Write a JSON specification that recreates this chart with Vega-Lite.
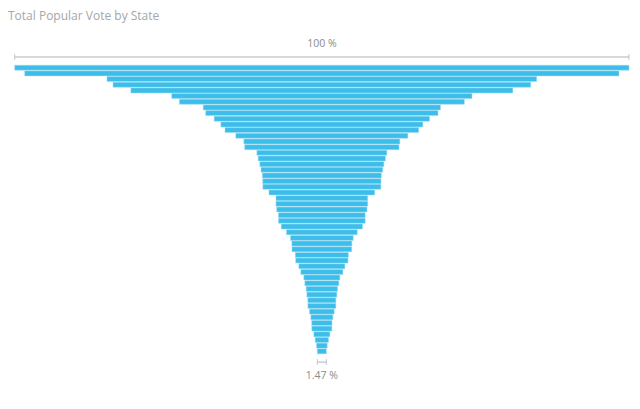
{
  "$schema": "https://vega.github.io/schema/vega-lite/v6.json",
  "autosize": {"type": "none"},
  "padding": {"left": 14.7, "top": 30, "right": 11, "bottom": 19},
  "width": 614.3,
  "height": 360,
  "background": "white",
  "title": {"text": "Total Popular Vote by State", "anchor": "start", "frame": "group", "orient": "top", "font": "Open Sans", "fontSize": 12, "fontWeight": "normal", "color": "#a6a6a6", "dx": -6.7, "offset": -2, "baseline": "alphabetic"},
  "config": {"view": {"stroke": null}},
  "data": {"values": [
    {"kind": "bar", "rank": 1, "state": "California", "value": 100},
    {"kind": "bar", "rank": 2, "state": "Texas", "value": 96.74},
    {"kind": "bar", "rank": 3, "state": "Florida", "value": 69.95},
    {"kind": "bar", "rank": 4, "state": "New York", "value": 68.0},
    {"kind": "bar", "rank": 5, "state": "Pennsylvania", "value": 62.18},
    {"kind": "bar", "rank": 6, "state": "Illinois", "value": 48.88},
    {"kind": "bar", "rank": 7, "state": "Ohio", "value": 46.39},
    {"kind": "bar", "rank": 8, "state": "Michigan", "value": 38.63},
    {"kind": "bar", "rank": 9, "state": "North Carolina", "value": 37.82},
    {"kind": "bar", "rank": 10, "state": "Georgia", "value": 35.05},
    {"kind": "bar", "rank": 11, "state": "Virginia", "value": 32.88},
    {"kind": "bar", "rank": 12, "state": "New Jersey", "value": 31.53},
    {"kind": "bar", "rank": 13, "state": "Washington", "value": 28.0},
    {"kind": "bar", "rank": 14, "state": "Massachusetts", "value": 25.39},
    {"kind": "bar", "rank": 15, "state": "Arizona", "value": 25.12},
    {"kind": "bar", "rank": 16, "state": "Wisconsin", "value": 21.16},
    {"kind": "bar", "rank": 17, "state": "Minnesota", "value": 20.72},
    {"kind": "bar", "rank": 18, "state": "Tennessee", "value": 20.19},
    {"kind": "bar", "rank": 19, "state": "Indiana", "value": 19.81},
    {"kind": "bar", "rank": 20, "state": "Missouri", "value": 19.37},
    {"kind": "bar", "rank": 21, "state": "Maryland", "value": 19.26},
    {"kind": "bar", "rank": 22, "state": "Colorado", "value": 19.21},
    {"kind": "bar", "rank": 23, "state": "Oregon", "value": 17.21},
    {"kind": "bar", "rank": 24, "state": "South Carolina", "value": 14.93},
    {"kind": "bar", "rank": 25, "state": "Louisiana", "value": 14.94},
    {"kind": "bar", "rank": 26, "state": "Kentucky", "value": 14.7},
    {"kind": "bar", "rank": 27, "state": "Alabama", "value": 14.11},
    {"kind": "bar", "rank": 28, "state": "Connecticut", "value": 14.1},
    {"kind": "bar", "rank": 29, "state": "Iowa", "value": 13.23},
    {"kind": "bar", "rank": 30, "state": "Oklahoma", "value": 11.51},
    {"kind": "bar", "rank": 31, "state": "Kansas", "value": 10.21},
    {"kind": "bar", "rank": 32, "state": "Utah", "value": 9.77},
    {"kind": "bar", "rank": 33, "state": "Nevada", "value": 9.72},
    {"kind": "bar", "rank": 34, "state": "Arkansas", "value": 8.63},
    {"kind": "bar", "rank": 35, "state": "Mississippi", "value": 8.51},
    {"kind": "bar", "rank": 36, "state": "Nebraska", "value": 7.49},
    {"kind": "bar", "rank": 37, "state": "New Mexico", "value": 6.84},
    {"kind": "bar", "rank": 38, "state": "Maine", "value": 5.86},
    {"kind": "bar", "rank": 39, "state": "New Hampshire", "value": 5.53},
    {"kind": "bar", "rank": 40, "state": "Idaho", "value": 5.1},
    {"kind": "bar", "rank": 41, "state": "West Virginia", "value": 4.88},
    {"kind": "bar", "rank": 42, "state": "Hawaii", "value": 4.56},
    {"kind": "bar", "rank": 43, "state": "Rhode Island", "value": 4.55},
    {"kind": "bar", "rank": 44, "state": "Montana", "value": 4.02},
    {"kind": "bar", "rank": 45, "state": "Delaware", "value": 3.58},
    {"kind": "bar", "rank": 46, "state": "South Dakota", "value": 3.3},
    {"kind": "bar", "rank": 47, "state": "Vermont", "value": 3.26},
    {"kind": "bar", "rank": 48, "state": "Alaska", "value": 2.6},
    {"kind": "bar", "rank": 49, "state": "North Dakota", "value": 2.17},
    {"kind": "bar", "rank": 50, "state": "District of Columbia", "value": 1.74},
    {"kind": "bar", "rank": 51, "state": "Wyoming", "value": 1.47},
    {"kind": "top", "rank": -0.89, "value": 100, "label": "100 %"},
    {"kind": "bottom", "rank": 52.9, "value": 1.47, "label": "1.47 %"}
  ]},
  "transform": [{"stack": "value", "groupby": ["rank"], "offset": "center", "as": ["x0", "x1"]}],
  "encoding": {
    "y": {"field": "rank", "type": "quantitative", "scale": {"domain": [-5.65, 57.82], "reverse": true, "nice": false, "zero": false, "padding": 0}, "axis": null}
  },
  "layer": [
    {
      "transform": [{"filter": "datum.kind === 'bar'"}],
      "mark": {"type": "bar", "size": 5, "color": "#3dbdea", "stroke": "#9edcf3", "strokeWidth": 0.5},
      "encoding": {
        "x": {"field": "x0", "type": "quantitative", "scale": {"domain": [0, 100], "nice": false, "zero": false, "padding": 0}, "axis": null},
        "x2": {"field": "x1"},
        "tooltip": [{"field": "state"}, {"field": "value", "type": "quantitative"}]
      }
    },
    {
      "transform": [{"filter": "datum.kind !== 'bar'"}],
      "mark": {"type": "rule", "color": "#b3b3b3", "strokeWidth": 1},
      "encoding": {"x": {"field": "x0", "type": "quantitative"}, "x2": {"field": "x1"}}
    },
    {
      "transform": [{"filter": "datum.kind !== 'bar'"}],
      "mark": {"type": "tick", "orient": "vertical", "color": "#b3b3b3", "size": 6, "thickness": 1},
      "encoding": {"x": {"field": "x0", "type": "quantitative"}}
    },
    {
      "transform": [{"filter": "datum.kind !== 'bar'"}],
      "mark": {"type": "tick", "orient": "vertical", "color": "#b3b3b3", "size": 6, "thickness": 1},
      "encoding": {"x": {"field": "x1", "type": "quantitative"}}
    },
    {
      "transform": [{"filter": "datum.kind === 'top'"}],
      "mark": {"type": "text", "font": "Open Sans", "fontSize": 10.5, "color": "#8a8a8a", "baseline": "middle", "align": "center", "dy": -13},
      "encoding": {"x": {"datum": 50}, "text": {"field": "label"}}
    },
    {
      "transform": [{"filter": "datum.kind === 'bottom'"}],
      "mark": {"type": "text", "font": "Open Sans", "fontSize": 10.5, "color": "#8a8a8a", "baseline": "middle", "align": "center", "dy": 14},
      "encoding": {"x": {"datum": 50}, "text": {"field": "label"}}
    }
  ]
}
